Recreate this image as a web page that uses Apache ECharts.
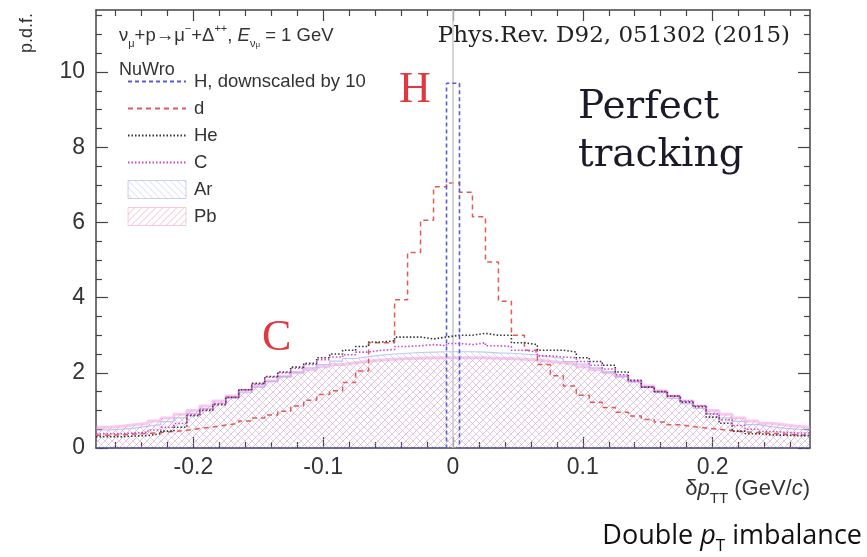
<!DOCTYPE html>
<html>
<head>
<meta charset="utf-8">
<script src="https://cdn.jsdelivr.net/npm/echarts@6/dist/echarts.min.js"></script>
<style>
  html, body { margin: 0; padding: 0; background: #fff; }
  #main { width: 867px; height: 557px; }
</style>
</head>
<body>
<div id="main"></div>
<script>
// histogram binning: 55 bins of 0.01 GeV/c, from -0.275 to 0.275
var binLo = -0.275;
var binW = 0.01;

// p.d.f. per bin (left to right)
var hH = [0,0,0,0,0,0,0,0,0,0,0,0,0,0,0,0,0,0,0,0,0,0,0,0,0,0,0, 9.7, 0,0,0,0,0,0,0,0,0,0,0,0,0,0,0,0,0,0,0,0,0,0,0,0,0,0,0];
var hD = [0.34,0.35,0.37,0.39,0.41,0.44,0.47,0.52,0.56,0.61,0.66,0.72,0.8,0.88,0.98,1.12,1.27,1.42,1.52,1.74,2.05,2.8,2.8,3.94,5.2,6.06,6.95,
          7.05,
          6.8,6.15,4.95,3.9,3.0,2.6,2.22,1.92,1.65,1.4,1.22,1.08,0.95,0.85,0.76,0.69,0.62,0.57,0.53,0.5,0.46,0.43,0.41,0.39,0.37,0.35,0.34];
var hHe = [0.3,0.3,0.32,0.33,0.38,0.45,0.55,0.86,1.0,1.15,1.35,1.55,1.72,1.9,2.02,2.15,2.25,2.4,2.5,2.6,2.7,2.82,2.85,2.95,2.95,2.9,2.95,
           3.0,
           3.0,3.05,3.0,3.0,2.8,2.75,2.6,2.6,2.55,2.4,2.3,2.2,2.02,1.8,1.62,1.5,1.38,1.22,1.1,0.82,0.66,0.45,0.38,0.35,0.34,0.33,0.33];
var hC = [0.38,0.38,0.4,0.42,0.48,0.55,0.65,0.88,1.02,1.18,1.35,1.55,1.7,1.88,2.0,2.12,2.22,2.35,2.42,2.48,2.55,2.6,2.62,2.7,2.72,2.75,2.72,
          2.78,
          2.75,2.8,2.72,2.7,2.6,2.55,2.45,2.42,2.4,2.3,2.2,2.1,1.95,1.78,1.62,1.5,1.38,1.25,1.12,0.9,0.75,0.6,0.5,0.44,0.42,0.4,0.4];
var hAr = [0.48,0.5,0.53,0.58,0.62,0.7,0.8,0.92,1.05,1.18,1.32,1.47,1.62,1.77,1.9,2.02,2.13,2.22,2.31,2.38,2.43,2.47,2.5,2.52,2.54,2.55,2.56,
           2.56,
           2.56,2.55,2.53,2.52,2.5,2.47,2.42,2.38,2.3,2.23,2.13,2.02,1.9,1.76,1.62,1.47,1.32,1.18,1.05,0.92,0.8,0.71,0.62,0.57,0.53,0.5,0.48];
var hPb = [0.55,0.58,0.62,0.66,0.72,0.8,0.9,1.0,1.12,1.25,1.38,1.52,1.65,1.78,1.9,2.0,2.08,2.16,2.22,2.27,2.31,2.34,2.36,2.38,2.39,2.4,2.4,
           2.4,
           2.4,2.4,2.39,2.38,2.36,2.34,2.31,2.27,2.22,2.16,2.08,2.0,1.9,1.78,1.65,1.52,1.38,1.25,1.12,1.0,0.9,0.8,0.72,0.66,0.62,0.58,0.55];

// axis ticks
var xMajorTicks = [-0.2, -0.1, 0, 0.1, 0.2];
var xMinorTicks = [-0.26, -0.24, -0.22, -0.18, -0.16, -0.14, -0.12, -0.08, -0.06, -0.04, -0.02,
                   0.02, 0.04, 0.06, 0.08, 0.12, 0.14, 0.16, 0.18, 0.22, 0.24, 0.26];
var yMajorTicks = [0, 2, 4, 6, 8, 10];
var yMinorTicks = [0.5, 1, 1.5, 2.5, 3, 3.5, 4.5, 5, 5.5, 6.5, 7, 7.5, 8.5, 9, 9.5, 10.5, 11, 11.5];

var xMin = -0.275, xMax = 0.275, yMin = 0, yMax = 11.65;

// bin contents -> step line points (left edges + closing right edge)
function toSteps(vals) {
	var pts = [];
	for (var i = 0; i < vals.length; i++) {
		pts.push([+(binLo + i * binW).toFixed(4), vals[i]]);
	}
	pts.push([+(binLo + vals.length * binW).toFixed(4), vals[vals.length - 1]]);
	return pts;
}

function hatch(color, dir) {
	var c = document.createElement('canvas');
	c.width = 7; c.height = 7;
	var g = c.getContext('2d');
	g.strokeStyle = color;
	g.lineWidth = 1;
	g.beginPath();
	if (dir > 0) {
		g.moveTo(-1, 8); g.lineTo(8, -1);
		g.moveTo(-1, 1); g.lineTo(1, -1);
		g.moveTo(6, 8); g.lineTo(8, 6);
	} else {
		g.moveTo(-1, -1); g.lineTo(8, 8);
		g.moveTo(6, -1); g.lineTo(8, 1);
		g.moveTo(-1, 6); g.lineTo(1, 8);
	}
	g.stroke();
	return c;
}

var pbFill = { image: hatch('rgba(238,140,168,0.6)', 1), repeat: 'repeat' };
var arFill = { image: hatch('rgba(150,158,235,0.38)', -1), repeat: 'repeat' };

var axisFont = 'Liberation Sans, Arial, sans-serif';
var serif = 'Liberation Serif, Times New Roman, serif';

function xAx(pos, ticks, len, main) {
	return {
		type: 'value', position: pos, min: xMin, max: xMax,
		axisLine: { show: main, onZero: false, lineStyle: { color: '#444', width: 1.5 } },
		axisTick: { show: true, inside: true, length: len, customValues: ticks, lineStyle: { color: '#444', width: 1.2 } },
		axisLabel: { show: main && pos === 'bottom', customValues: xMajorTicks, margin: 8, fontSize: 23, color: '#333', fontFamily: axisFont },
		splitLine: { show: false }
	};
}
function yAx(pos, ticks, len, main) {
	return {
		type: 'value', position: pos, min: yMin, max: yMax,
		axisLine: { show: main, onZero: false, lineStyle: { color: '#444', width: 1.5 } },
		axisTick: { show: true, inside: true, length: len, customValues: ticks, lineStyle: { color: '#444', width: 1.2 } },
		axisLabel: { show: main && pos === 'left', customValues: yMajorTicks, margin: 11, fontSize: 23, color: '#333', fontFamily: axisFont },
		splitLine: { show: false }
	};
}

function histLine(name, vals, color, dash, width, z) {
	return {
		name: name, type: 'line', step: 'end', symbol: 'none', z: z,
		data: toSteps(vals),
		lineStyle: { color: color, type: dash, width: width },
		itemStyle: { color: color },
		silent: true, animation: false
	};
}

var chart = echarts.init(document.getElementById('main'));

var sPb = histLine('Pb', hPb, 'rgba(240,150,220,0.5)', 'solid', 3, 2);
sPb.areaStyle = { color: pbFill, opacity: 1 };
var sAr = histLine('Ar', hAr, 'rgba(165,175,240,0.7)', 'solid', 1.2, 3);
sAr.areaStyle = { color: arFill, opacity: 1 };
var sH = histLine('H, downscaled by 10', hH, '#5a5ad8', [4, 3], 1.6, 6);
sH.markLine = {
	silent: true, symbol: 'none', label: { show: false },
	lineStyle: { color: '#c8c8c8', type: 'solid', width: 1.5 },
	data: [{ xAxis: 0 }]
};

var noSym = { opacity: 0 };

chart.setOption({
	animation: false,
	backgroundColor: '#fff',
	grid: { left: 96, right: 57, top: 10, bottom: 109, show: false },
	xAxis: [
		xAx('bottom', xMajorTicks, 11, true),
		xAx('bottom', xMinorTicks, 6, false),
		xAx('top', xMajorTicks, 11, true),
		xAx('top', xMinorTicks, 6, false)
	],
	yAxis: [
		yAx('left', yMajorTicks, 12, true),
		yAx('left', yMinorTicks, 6, false),
		yAx('right', yMajorTicks, 12, true),
		yAx('right', yMinorTicks, 6, false)
	],
	legend: {
		orient: 'vertical', left: 122, top: 67,
		itemWidth: 58, itemHeight: 18, itemGap: 8,
		selectedMode: false,
		textStyle: { fontSize: 18.5, color: '#333', fontFamily: axisFont, padding: [0, 0, 0, 3] },
		data: [
			{ name: 'H, downscaled by 10', itemStyle: noSym },
			{ name: 'd', itemStyle: noSym },
			{ name: 'He', itemStyle: noSym },
			{ name: 'C', itemStyle: noSym },
			{ name: 'Ar', icon: 'rect', itemStyle: { color: arFill, borderColor: 'rgba(170,175,235,0.6)', borderWidth: 1 } },
			{ name: 'Pb', icon: 'rect', itemStyle: { color: pbFill, borderColor: 'rgba(240,170,190,0.6)', borderWidth: 1 } }
		]
	},
	graphic: [
		{ type: 'text', left: 18, top: 13, rotation: Math.PI / 2, style: { text: 'p.d.f.', fontSize: 18, fill: '#333', fontFamily: axisFont } },
		{ type: 'text', left: 119, top: 23, style: {
			text: '{n|ν}{s|μ}{n|+p→μ}{p|−}{n|+Δ}{p|++}{n|, }{i|E}{s|ν}{ss|μ}{n| = 1 GeV}',
			rich: {
				n: { fontSize: 18.5, lineHeight: 26, fill: '#333', fontFamily: axisFont },
				i: { fontSize: 18.5, lineHeight: 26, fill: '#333', fontStyle: 'italic', fontFamily: axisFont },
				s: { fontSize: 11, lineHeight: 11, verticalAlign: 'bottom', fill: '#333', fontFamily: axisFont },
				ss: { fontSize: 8, lineHeight: 6, verticalAlign: 'bottom', fill: '#333', fontFamily: axisFont },
				p: { fontSize: 11, lineHeight: 11, verticalAlign: 'top', fill: '#333', fontFamily: axisFont }
			}
		} },
		{ type: 'text', left: 119, top: 61, style: { text: 'NuWro', fontSize: 18, fill: '#333', fontFamily: axisFont } },
		{ type: 'text', right: 77, top: 25, style: { text: 'Phys.Rev. D92, 051302 (2015)', fontSize: 23, fill: '#222', fontFamily: 'DejaVu Serif, serif' } },
		{ type: 'text', left: 399, top: 68, style: { text: 'H', fontSize: 44, fill: '#e0383e', fontFamily: serif } },
		{ type: 'text', left: 262, top: 316, style: { text: 'C', fontSize: 44, fill: '#e0383e', fontFamily: serif } },
		{ type: 'text', left: 578, top: 84, style: { text: 'Perfect\ntracking', fontSize: 39, lineHeight: 48, fill: '#1a1a28', fontFamily: 'DejaVu Serif, serif' } },
		{ type: 'text', right: 57, top: 478, style: {
			text: '{n|δ}{i|p}{s|TT}{n| (GeV/}{i|c}{n|)}',
			rich: {
				n: { fontSize: 22, lineHeight: 34, fill: '#333', fontFamily: axisFont },
				i: { fontSize: 22, lineHeight: 34, fill: '#333', fontStyle: 'italic', fontFamily: axisFont },
				s: { fontSize: 15, lineHeight: 15, verticalAlign: 'bottom', fill: '#333', fontFamily: axisFont }
			}
		} },
		{ type: 'text', right: 5, top: 523, style: {
			text: '{n|Double }{i|p}{s|T}{n| imbalance}',
			rich: {
				n: { fontSize: 27, lineHeight: 36, fill: '#111', fontFamily: 'Open Sans, Noto Sans, sans-serif' },
				i: { fontSize: 27, lineHeight: 36, fill: '#111', fontStyle: 'italic', fontFamily: 'Open Sans, Noto Sans, sans-serif' },
				s: { fontSize: 17, lineHeight: 17, verticalAlign: 'bottom', fill: '#111', fontFamily: 'Open Sans, Noto Sans, sans-serif' }
			}
		} }
	],
	series: [
		sPb,
		sAr,
		histLine('d', hD, '#e25a52', [5, 4], 1.5, 4),
		histLine('He', hHe, '#333', [1.5, 2], 1.6, 5),
		histLine('C', hC, '#d040d0', [1.5, 2], 1.6, 5),
		sH
	]
});
</script>
</body>
</html>
